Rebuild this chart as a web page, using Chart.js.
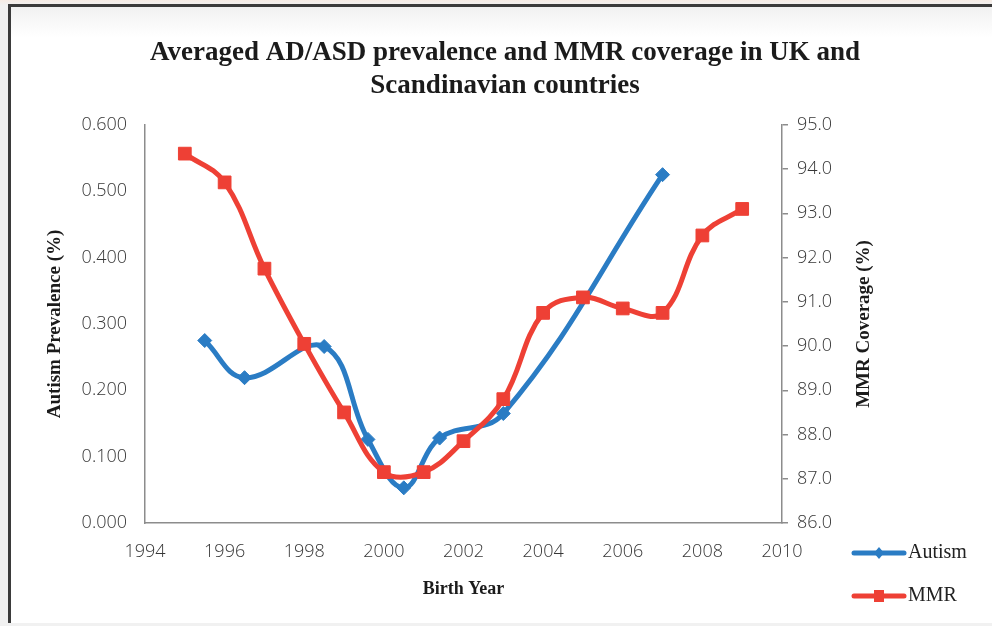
<!DOCTYPE html>
<html>
<head>
<meta charset="utf-8">
<script src="https://cdn.jsdelivr.net/npm/chart.js@4.4.1/dist/chart.umd.min.js"></script>
<style>
  html, body { margin: 0; padding: 0; }
  body {
    width: 992px; height: 626px; overflow: hidden; position: relative;
    background: linear-gradient(#f6ebe4 0px, #f1f1f1 5px, #f1f1f1 100%);
  }
  #frame {
    position: absolute; left: 8px; top: 4px; width: 1000px; height: 616px;
    border-top: 3px solid #3b3b3b; border-left: 3px solid #3b3b3b;
    background: linear-gradient(#f1f1f1 0px, #ffffff 30px);
  }
  #chart { position: absolute; left: 0; top: 0; }
</style>
</head>
<body>
<div id="frame"></div>
<canvas id="chart" width="992" height="626"></canvas>
<script>
const chartTitle = ["Averaged AD/ASD prevalence and MMR coverage in UK and", "Scandinavian countries"];
const xTitle = "Birth Year";
const leftTitle = "Autism Prevalence (%)";
const rightTitle = "MMR Coverage (%)";

// Autism prevalence (left axis, %)
const autismYears = [1995.5, 1996.5, 1998.5, 1999.6, 2000.5, 2001.4, 2003, 2007];
const autismValues = [0.275, 0.219, 0.266, 0.126, 0.053, 0.128, 0.165, 0.525];

// MMR coverage (right axis, %)
const mmrYears = [1995, 1996, 1997, 1998, 1999, 2000, 2001, 2002, 2003, 2004, 2005, 2006, 2007, 2008, 2009];
const mmrValues = [94.35, 93.7, 91.75, 90.05, 88.5, 87.15, 87.15, 87.85, 88.8, 90.75, 91.1, 90.85, 90.75, 92.5, 93.1];

const seriesNames = ["Autism", "MMR"];
const seriesColors = ["#2a7cc4", "#ee4035"];

const axisColor = "#8c8c8c";
const tickColor = "#363636";
const serif = "'Liberation Serif', 'Times New Roman', serif";
const tickFont = { family: "'Open Sans', 'DejaVu Sans', sans-serif", size: 18, weight: 300 };

function toPoints(xs, ys) {
  return xs.map((x, i) => ({ x: x, y: ys[i] }));
}

// legend swatch: thick line with the marker in the middle
function swatch(color, style) {
  const c = document.createElement("canvas");
  c.width = 56;
  c.height = 16;
  const g = c.getContext("2d");
  g.strokeStyle = color;
  g.fillStyle = color;
  g.lineWidth = 5;
  g.lineCap = "round";
  g.beginPath();
  g.moveTo(3, 8);
  g.lineTo(53, 8);
  g.stroke();
  g.beginPath();
  if (style === "rect") {
    g.rect(23, 2, 10, 12);
  } else {
    g.moveTo(28, 2); g.lineTo(33, 8); g.lineTo(28, 14); g.lineTo(23, 8); g.closePath();
  }
  g.fill();
  return c;
}
const swatches = [swatch(seriesColors[0], "rectRot"), swatch(seriesColors[1], "rect")];

const extras = {
  id: "extras",
  beforeDraw(chart) {
    // move the legend to the lower right corner, under the right axis title
    const lg = chart.legend;
    const ca = chart.chartArea;
    lg.left = ca.right + 55;
    lg.top = ca.bottom - 3;
    lg.right = lg.left + lg.width;
    lg.bottom = lg.top + lg.height;
  },
  afterDraw(chart) {
    // right axis title reads bottom-to-top like the left one
    const ctx = chart.ctx;
    const ca = chart.chartArea;
    ctx.save();
    ctx.translate(chart.scales.y1.left + 82, (ca.top + ca.bottom) / 2);
    ctx.rotate(-Math.PI / 2);
    ctx.font = "bold 19px " + serif;
    ctx.fillStyle = "#1b1b1b";
    ctx.textAlign = "center";
    ctx.textBaseline = "middle";
    ctx.fillText(rightTitle, 0, 0);
    ctx.restore();
  }
};

new Chart(document.getElementById("chart"), {
  type: "line",
  data: {
    datasets: [
      {
        label: seriesNames[0],
        data: toPoints(autismYears, autismValues),
        yAxisID: "y",
        borderColor: seriesColors[0],
        backgroundColor: seriesColors[0],
        borderWidth: 5,
        pointStyle: "rectRot",
        pointRadius: 7,
        pointBorderWidth: 1,
        tension: 0.4,
        order: 1
      },
      {
        label: seriesNames[1],
        data: toPoints(mmrYears, mmrValues),
        yAxisID: "y1",
        borderColor: seriesColors[1],
        backgroundColor: seriesColors[1],
        borderWidth: 5,
        pointStyle: "rect",
        pointRadius: 9,
        pointBorderWidth: 1,
        tension: 0.4,
        order: 0
      }
    ]
  },
  options: {
    responsive: false,
    devicePixelRatio: 1,
    animation: false,
    events: [],
    layout: { padding: { left: 18, right: 0, top: 0, bottom: 0 } },
    plugins: {
      title: {
        display: true,
        text: chartTitle,
        color: "#1b1b1b",
        font: { family: serif, size: 27, weight: "bold", lineHeight: 1.22 },
        padding: { top: 37, bottom: 22 }
      },
      legend: {
        position: "chartArea",
        align: "start",
        labels: {
          usePointStyle: true,
          pointStyleWidth: 38,
          padding: 23,
          color: "#222",
          font: { family: serif, size: 20 },
          generateLabels(chart) {
            const items = Chart.defaults.plugins.legend.labels.generateLabels(chart);
            items.sort((a, b) => a.datasetIndex - b.datasetIndex);
            items.forEach((it) => { it.pointStyle = swatches[it.datasetIndex]; });
            return items;
          }
        }
      },
      tooltip: { enabled: false }
    },
    scales: {
      x: {
        type: "linear",
        min: 1994,
        max: 2010,
        ticks: { stepSize: 2, padding: 18, color: tickColor, font: tickFont, callback: (v) => String(v) },
        grid: { display: false, drawTicks: false },
        border: { color: axisColor, width: 1.5 },
        title: {
          display: true,
          text: xTitle,
          color: "#1b1b1b",
          font: { family: serif, size: 18, weight: "bold" },
          padding: { top: 0, bottom: 26 }
        },
        afterFit(s) { s.height = 103; }
      },
      y: {
        position: "left",
        min: 0,
        max: 0.6,
        ticks: { stepSize: 0.1, padding: 18, color: tickColor, font: tickFont, callback: (v) => v.toFixed(3) },
        grid: { display: false, drawTicks: false },
        border: { color: axisColor, width: 1.5 },
        title: {
          display: true,
          text: leftTitle,
          color: "#1b1b1b",
          font: { family: serif, size: 19, weight: "bold" },
          padding: { top: 26, bottom: 0 }
        },
        afterFit(s) { s.width = 127; }
      },
      y1: {
        position: "right",
        min: 86,
        max: 95,
        ticks: { stepSize: 1, padding: 9, color: tickColor, font: tickFont, callback: (v) => v.toFixed(1) },
        grid: { drawOnChartArea: false, drawTicks: true, tickLength: 6, color: axisColor, lineWidth: 1.5 },
        border: { color: axisColor, width: 1.5 },
        afterFit(s) { s.width = 210; }
      }
    }
  },
  plugins: [extras]
});
</script>
</body>
</html>
